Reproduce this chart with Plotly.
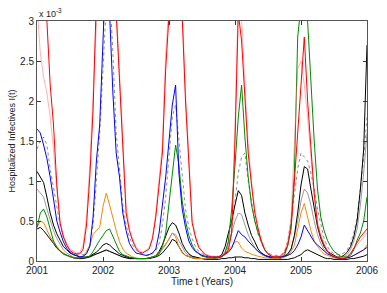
import plotly.graph_objects as go

# time axis (years)
years = [
    2001.00, 2001.05, 2001.10, 2001.15, 2001.20, 2001.25, 2001.30, 2001.35, 2001.40, 2001.45,
    2001.50, 2001.55, 2001.60, 2001.65, 2001.70, 2001.75, 2001.80, 2001.85, 2001.90, 2001.95,
    2002.00, 2002.05, 2002.10, 2002.15, 2002.20, 2002.25, 2002.30, 2002.35, 2002.40, 2002.45,
    2002.50, 2002.55, 2002.60, 2002.65, 2002.70, 2002.75, 2002.80, 2002.85, 2002.90, 2002.95,
    2003.00, 2003.05, 2003.10, 2003.15, 2003.20, 2003.25, 2003.30, 2003.35, 2003.40, 2003.45,
    2003.50, 2003.55, 2003.60, 2003.65, 2003.70, 2003.75, 2003.80, 2003.85, 2003.90, 2003.95,
    2004.00, 2004.05, 2004.10, 2004.15, 2004.20, 2004.25, 2004.30, 2004.35, 2004.40, 2004.45,
    2004.50, 2004.55, 2004.60, 2004.65, 2004.70, 2004.75, 2004.80, 2004.85, 2004.90, 2004.95,
    2005.00, 2005.05, 2005.10, 2005.15, 2005.20, 2005.25, 2005.30, 2005.35, 2005.40, 2005.45,
    2005.50, 2005.55, 2005.60, 2005.65, 2005.70, 2005.75, 2005.80, 2005.85, 2005.90, 2005.95,
    2006.00,
]

# hospitalized infectives, in units of 1e-3
red = [
    4.5, 4.0, 3.5, 3.0, 2.2, 1.7, 0.95, 0.47, 0.3, 0.2,
    0.13, 0.1, 0.09, 0.09, 0.15, 0.45, 1.05, 1.9, 3.3, 4.2,
    4.6, 4.6, 4.2, 3.6, 3.1, 2.2, 1.4, 0.6, 0.38, 0.25,
    0.16, 0.11, 0.1, 0.12, 0.15, 0.28, 0.55, 0.95, 1.35, 2.4,
    3.4, 4.2, 4.4, 3.9, 3.05, 2.0, 1.15, 0.48, 0.3, 0.17,
    0.12, 0.08, 0.06, 0.05, 0.05, 0.05, 0.06, 0.08, 0.14, 0.35,
    1.5, 3.1, 2.75, 2.0, 1.35, 0.95, 0.6, 0.4, 0.24, 0.14,
    0.09, 0.06, 0.05, 0.05, 0.06, 0.1, 0.2, 0.4, 0.95, 1.6,
    2.2, 2.8, 2.0, 1.4, 0.85, 0.45, 0.3, 0.2, 0.12, 0.08,
    0.05, 0.04, 0.03, 0.03, 0.05, 0.09, 0.16, 0.24, 0.3, 0.35,
    0.4,
]
pink = [
    3.2, 2.6, 2.3, 2.1, 1.8, 1.4, 0.9, 0.5, 0.32, 0.22,
    0.15, 0.12, 0.1, 0.11, 0.2, 0.55, 1.2, 2.1, 3.4, 4.2,
    4.6, 4.6, 4.3, 3.8, 3.2, 2.4, 1.5, 0.7, 0.4, 0.27,
    0.18, 0.13, 0.11, 0.13, 0.17, 0.3, 0.6, 1.0, 1.45, 2.6,
    3.5, 4.2, 4.4, 4.0, 3.2, 2.1, 1.25, 0.52, 0.32, 0.19,
    0.13, 0.09, 0.07, 0.06, 0.06, 0.06, 0.07, 0.09, 0.16, 0.4,
    1.7, 3.3, 3.0, 2.2, 1.45, 1.0, 0.65, 0.42, 0.26, 0.15,
    0.1, 0.07, 0.06, 0.06, 0.07, 0.12, 0.25, 0.55, 1.5, 2.4,
    2.5, 2.2, 1.8, 1.3, 0.8, 0.5, 0.32, 0.22, 0.13, 0.09,
    0.06, 0.05, 0.04, 0.04, 0.06, 0.1, 0.15, 0.2, 0.25, 0.3,
    0.35,
]
blue = [
    1.65, 1.6, 1.45, 1.28, 1.05, 0.78, 0.5, 0.36, 0.24, 0.16,
    0.11, 0.08, 0.07, 0.05, 0.06, 0.09, 0.18, 0.55, 1.25, 1.7,
    3.0, 3.8, 3.1, 2.1, 1.35, 1.05, 0.6, 0.38, 0.22, 0.15,
    0.1, 0.09, 0.08, 0.07, 0.08, 0.1, 0.15, 0.35, 0.7, 1.05,
    1.5, 1.95, 2.2, 1.1, 0.65, 0.42, 0.25, 0.17, 0.12, 0.09,
    0.07, 0.06, 0.05, 0.05, 0.05, 0.05, 0.06, 0.08, 0.11, 0.16,
    0.28, 0.38, 0.33, 0.3, 0.25, 0.2, 0.16, 0.12, 0.09, 0.07,
    0.06, 0.05, 0.05, 0.05, 0.05, 0.06, 0.07, 0.09, 0.13, 0.2,
    0.3, 0.45, 0.38, 0.3, 0.24, 0.2, 0.16, 0.12, 0.09, 0.07,
    0.05, 0.04, 0.03, 0.03, 0.04, 0.05, 0.07, 0.09, 0.11, 0.14,
    0.17,
]
green = [
    0.42, 0.6, 0.65, 0.55, 0.4, 0.25, 0.17, 0.12, 0.09, 0.07,
    0.05, 0.04, 0.04, 0.04, 0.04, 0.05, 0.06, 0.12, 0.2, 0.26,
    0.32, 0.38, 0.4, 0.3, 0.2, 0.12, 0.08, 0.06, 0.05, 0.04,
    0.03, 0.03, 0.03, 0.03, 0.04, 0.05, 0.06, 0.09, 0.18, 0.35,
    0.7, 1.1, 1.45, 1.2, 0.75, 0.5, 0.32, 0.2, 0.13, 0.09,
    0.06, 0.05, 0.04, 0.04, 0.04, 0.04, 0.05, 0.1, 0.25, 0.65,
    1.2, 1.8, 2.2, 1.55, 1.05, 0.7, 0.5, 0.35, 0.25, 0.14,
    0.09, 0.06, 0.05, 0.05, 0.05, 0.07, 0.2, 0.45, 1.1, 2.8,
    3.4, 3.6, 3.0, 2.2, 1.5, 0.9, 0.55, 0.38, 0.26, 0.18,
    0.12, 0.09, 0.06, 0.05, 0.05, 0.07, 0.14, 0.26, 0.35, 0.5,
    0.8,
]
orange = [
    0.42, 0.5, 0.48, 0.38, 0.3, 0.24, 0.18, 0.13, 0.1, 0.07,
    0.05, 0.04, 0.04, 0.04, 0.06, 0.12, 0.2, 0.33, 0.38, 0.42,
    0.68, 0.85, 0.7, 0.52, 0.38, 0.24, 0.15, 0.1, 0.07, 0.05,
    0.04, 0.03, 0.03, 0.03, 0.04, 0.05, 0.07, 0.1, 0.16, 0.22,
    0.27, 0.35, 0.3, 0.18, 0.1, 0.07, 0.05, 0.04, 0.03, 0.03,
    0.03, 0.03, 0.03, 0.03, 0.04, 0.05, 0.06, 0.1, 0.13, 0.18,
    0.24, 0.24, 0.16, 0.12, 0.1, 0.08, 0.07, 0.06, 0.05, 0.04,
    0.04, 0.03, 0.03, 0.03, 0.04, 0.05, 0.07, 0.12, 0.2, 0.38,
    0.6, 0.72, 0.55, 0.38, 0.25, 0.18, 0.13, 0.09, 0.07, 0.05,
    0.04, 0.03, 0.03, 0.03, 0.04, 0.05, 0.07, 0.09, 0.11, 0.14,
    0.2,
]
black = [
    1.12, 1.05, 0.98, 0.8, 0.6, 0.45, 0.34, 0.26, 0.18, 0.14,
    0.1, 0.08, 0.06, 0.05, 0.05, 0.05, 0.06, 0.08, 0.11, 0.15,
    0.2, 0.22, 0.2, 0.16, 0.12, 0.09, 0.07, 0.05, 0.04, 0.04,
    0.03, 0.03, 0.03, 0.03, 0.04, 0.05, 0.07, 0.12, 0.2, 0.3,
    0.42, 0.48, 0.45, 0.35, 0.22, 0.14, 0.09, 0.06, 0.05, 0.04,
    0.03, 0.03, 0.03, 0.03, 0.04, 0.05, 0.08, 0.18, 0.35, 0.5,
    0.7, 0.88, 0.82, 0.6, 0.45, 0.32, 0.24, 0.15, 0.1, 0.07,
    0.05, 0.04, 0.03, 0.03, 0.04, 0.06, 0.09, 0.15, 0.32, 0.6,
    0.95, 1.18, 1.15, 0.9, 0.68, 0.43, 0.28, 0.18, 0.12, 0.09,
    0.07, 0.05, 0.05, 0.07, 0.11, 0.18, 0.3, 0.5, 0.9, 1.4,
    2.7,
]
black_low = [
    0.4, 0.42, 0.38, 0.33, 0.28, 0.22, 0.16, 0.12, 0.09, 0.07,
    0.05, 0.04, 0.03, 0.03, 0.03, 0.04, 0.05, 0.07, 0.09, 0.11,
    0.13, 0.14, 0.12, 0.1, 0.08, 0.06, 0.05, 0.04, 0.03, 0.03,
    0.03, 0.03, 0.03, 0.03, 0.03, 0.04, 0.05, 0.07, 0.1, 0.15,
    0.2, 0.27, 0.25, 0.18, 0.11, 0.07, 0.05, 0.04, 0.03, 0.03,
    0.03, 0.02, 0.02, 0.02, 0.02, 0.02, 0.03, 0.03, 0.04, 0.04,
    0.05, 0.05, 0.05, 0.04, 0.04, 0.03, 0.03, 0.02, 0.02, 0.02,
    0.02, 0.02, 0.02, 0.02, 0.02, 0.02, 0.02, 0.03, 0.04, 0.06,
    0.08, 0.12, 0.14, 0.12, 0.1, 0.07, 0.05, 0.04, 0.03, 0.03,
    0.02, 0.02, 0.02, 0.02, 0.02, 0.03, 0.03, 0.04, 0.05, 0.06,
    0.08,
]
gray_dotted = [
    1.4, 1.5, 1.55, 1.45, 1.15, 0.9, 0.65, 0.45, 0.3, 0.2,
    0.14, 0.1, 0.08, 0.07, 0.08, 0.1, 0.2, 0.45, 1.0, 1.6,
    2.4, 3.2, 3.4, 2.6, 1.6, 1.1, 0.7, 0.45, 0.3, 0.2,
    0.14, 0.1, 0.08, 0.07, 0.07, 0.09, 0.13, 0.22, 0.45, 0.8,
    1.3, 1.8, 1.95, 1.5, 1.0, 0.65, 0.42, 0.28, 0.18, 0.12,
    0.09, 0.07, 0.06, 0.05, 0.05, 0.05, 0.06, 0.09, 0.18, 0.4,
    0.75, 1.1, 1.3, 1.35, 1.0, 0.72, 0.5, 0.33, 0.22, 0.14,
    0.1, 0.08, 0.07, 0.07, 0.08, 0.12, 0.25, 0.5, 0.85, 1.15,
    1.35, 1.3, 1.25, 1.1, 0.9, 0.65, 0.45, 0.28, 0.18, 0.12,
    0.09, 0.08, 0.08, 0.1, 0.14, 0.22, 0.35, 0.55, 0.9, 1.3,
    1.8,
]
gray = [
    0.9, 0.85, 0.8, 0.65, 0.5, 0.38, 0.28, 0.2, 0.14, 0.1,
    0.07, 0.05, 0.04, 0.04, 0.04, 0.05, 0.06, 0.07, 0.09, 0.1,
    0.12, 0.13, 0.12, 0.1, 0.08, 0.06, 0.05, 0.04, 0.03, 0.03,
    0.03, 0.03, 0.03, 0.03, 0.04, 0.05, 0.06, 0.09, 0.14, 0.2,
    0.28, 0.35, 0.33, 0.25, 0.16, 0.1, 0.07, 0.05, 0.04, 0.03,
    0.03, 0.03, 0.03, 0.03, 0.03, 0.04, 0.06, 0.12, 0.22, 0.35,
    0.5, 0.6, 0.58, 0.45, 0.33, 0.24, 0.17, 0.12, 0.08, 0.06,
    0.05, 0.04, 0.03, 0.03, 0.04, 0.05, 0.08, 0.15, 0.3, 0.5,
    0.75, 0.9, 0.85, 0.7, 0.5, 0.33, 0.22, 0.14, 0.1, 0.07,
    0.05, 0.04, 0.04, 0.05, 0.08, 0.14, 0.25, 0.4, 0.7, 1.1,
    1.6,
]

x_ticks = [2001, 2002, 2003, 2004, 2005, 2006]
x_tick_labels = ["2001", "2002", "2003", "2004", "2005", "2006"]
y_ticks = [0, 0.5, 1, 1.5, 2, 2.5, 3]
y_tick_labels = ["0", "0.5", "1", "1.5", "2", "2.5", "3"]

series = [
    (gray, dict(color="rgba(130,130,130,0.8)", width=1)),
    (gray_dotted, dict(color="rgba(50,50,50,0.7)", width=0.8, dash="dot")),
    (black_low, dict(color="#000000", width=1)),
    (black, dict(color="#000000", width=1)),
    (orange, dict(color="#f08a10", width=1)),
    (green, dict(color="#008a00", width=1)),
    (blue, dict(color="#0000ff", width=1)),
    (pink, dict(color="rgba(255,100,100,0.5)", width=1)),
    (red, dict(color="#ff0000", width=1)),
]

fig = go.Figure()
for vals, line in series:
    fig.add_trace(go.Scatter(x=years, y=vals, mode="lines", line=line,
                             showlegend=False, hoverinfo="skip"))

font_family = "Liberation Sans, Arial, sans-serif"
fig.update_layout(
    width=387, height=293,
    margin=dict(l=37, r=20, t=21, b=32),
    paper_bgcolor="white", plot_bgcolor="white",
    font=dict(family=font_family, size=10, color="#222222"),
    showlegend=False,
)
fig.update_xaxes(
    range=[2001, 2006], tickvals=x_ticks, ticktext=x_tick_labels,
    ticks="inside", ticklen=4, tickcolor="#333333",
    showline=True, linecolor="#555555", linewidth=1, mirror="ticks",
    showgrid=False, zeroline=False, automargin=False,
    tickfont=dict(size=10, color="#222222"),
    title=dict(text="Time t (Years)", font=dict(size=10, color="#222222"), standoff=2),
)
fig.update_yaxes(
    range=[0, 3], tickvals=y_ticks, ticktext=y_tick_labels,
    ticks="inside", ticklen=4, tickcolor="#333333",
    showline=True, linecolor="#555555", linewidth=1, mirror="ticks",
    showgrid=False, zeroline=False, automargin=False,
    tickfont=dict(size=10, color="#222222"),
    title=dict(text="Hospitalized Infectives I(t)", font=dict(size=9, color="#222222"), standoff=2),
)
fig.add_annotation(
    text="x 10<sup>-3</sup>", xref="paper", yref="paper", x=0, y=1.0,
    xanchor="left", yanchor="bottom", showarrow=False,
    font=dict(size=9, color="#222222"),
)

fig.write_html("out.html", config={"displayModeBar": False},
               post_script="document.body.style.margin='0';")
